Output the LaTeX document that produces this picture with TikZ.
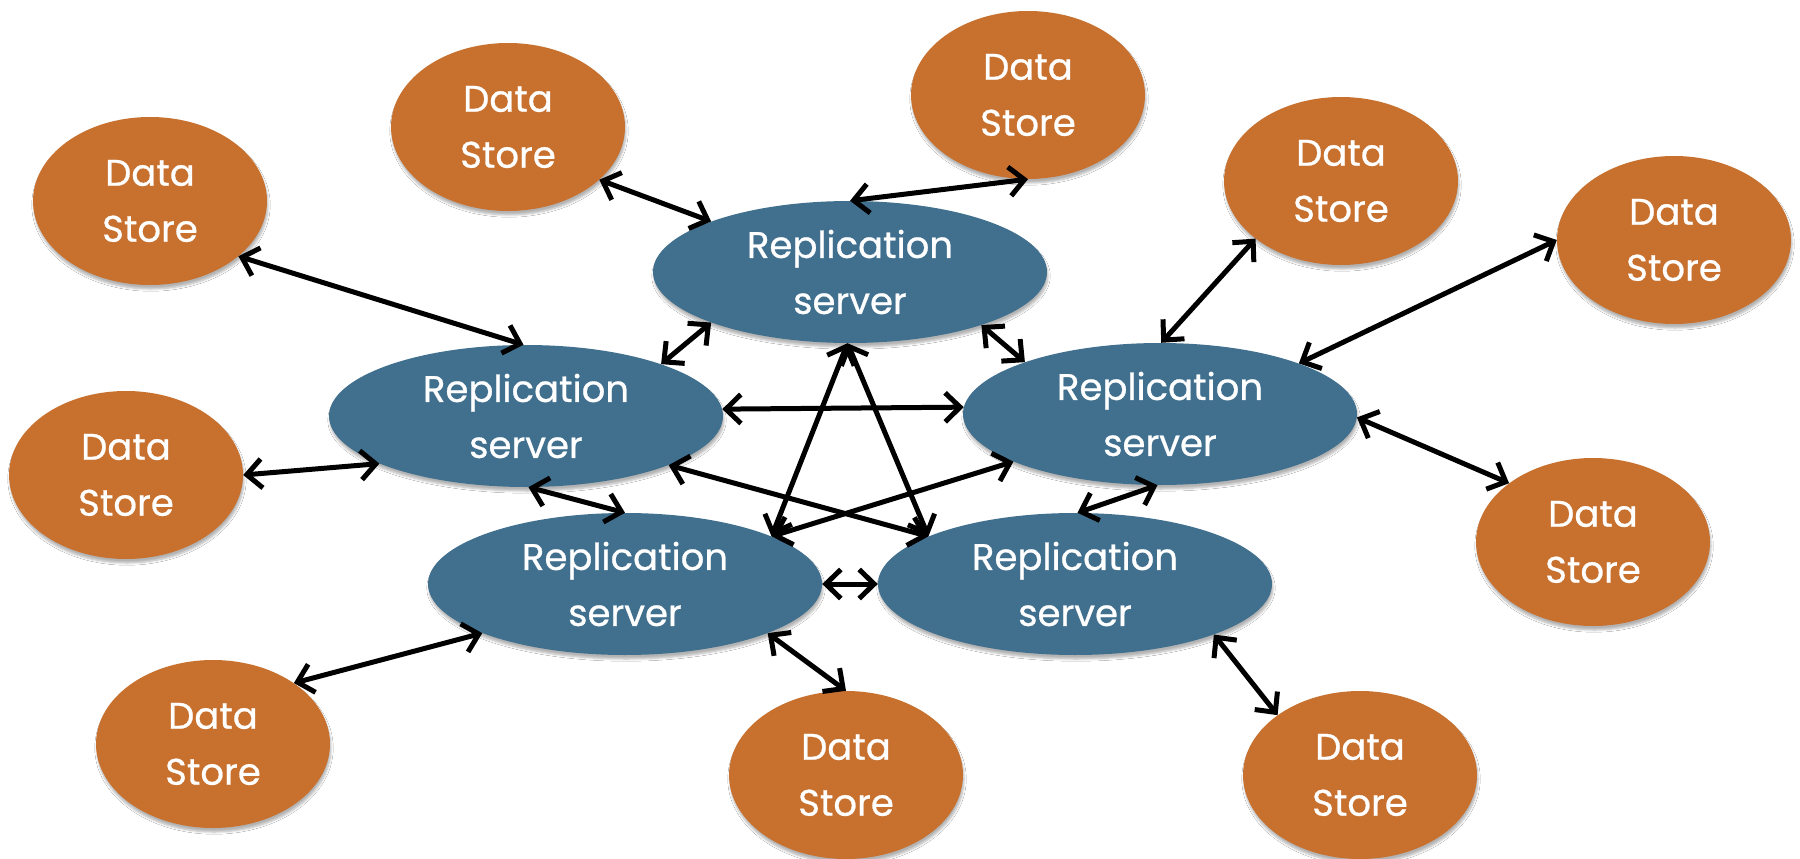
\documentclass[tikz,border=0pt]{standalone}
\usepackage{fontspec}
\setmainfont{Poppins}
\newfontfamily\lblfont{Poppins}[FakeBold=0.7]
\usetikzlibrary{arrows.meta,shapes.geometric,shadows.blur}
\definecolor{serverblue}{RGB}{65,112,143}
\definecolor{storeorange}{RGB}{200,112,46}
\begin{document}
\begin{tikzpicture}[x=1pt,y=-1pt,
  soft/.style={blur shadow={shadow blur steps=6, shadow xshift=1pt, shadow yshift=-4pt, shadow opacity=30}},
  label/.style={inner sep=0pt, text=white, align=center, font=\lblfont\fontsize{37}{56}\selectfont},
  server/.style={ellipse, fill=serverblue, minimum width=394pt, minimum height=142pt,
    label, soft},
  store/.style={ellipse, fill=storeorange, minimum width=234pt, minimum height=168pt,
    label, soft},
  link/.style={{Straight Barb[length=15pt,width=29pt]}-{Straight Barb[length=15pt,width=29pt]},
    line width=5pt, black},
]
\useasboundingbox (0,0) rectangle (1800,859);
\fill[white] (0,0) rectangle (1800,859);

% replication servers
\node[server] (T)  at (850,272)  {Replication\\server};
\node[server] (L)  at (526,416)  {Replication\\server};
\node[server] (R)  at (1160,414) {Replication\\server};
\node[server] (BL) at (625,584)  {Replication\\server};
\node[server] (BR) at (1075,584) {Replication\\server};

% data stores
\node[store] (D1)  at (508,127)  {Data\\Store};
\node[store] (D2)  at (1028,95)  {Data\\Store};
\node[store] (D3)  at (150,201)  {Data\\Store};
\node[store] (D4)  at (1341,181) {Data\\Store};
\node[store] (D5)  at (1674,240) {Data\\Store};
\node[store] (D6)  at (126,475)  {Data\\Store};
\node[store] (D7)  at (1593,542) {Data\\Store};
\node[store] (D8)  at (213,744)  {Data\\Store};
\node[store] (D9)  at (846,775)  {Data\\Store};
\node[store] (D10) at (1360,775) {Data\\Store};

% store-to-server links
\draw[link] (D1.330)  -- (T.160);
\draw[link] (D2.270)  -- (T.90);
\draw[link] (D3.328)  -- (L.92);
\draw[link] (D4.214)  -- (R.89);
\draw[link] (D5.180)  -- (R.20);
\draw[link] (D6.0)    -- (L.198);
\draw[link] (D7.145)  -- (R.-1);
\draw[link] (D8.37)   -- (BL.199);
\draw[link] (D9.90)   -- (BL.341);
\draw[link] (D10.144) -- (BR.340);

% server-to-server links
\draw[link] (T.200)  -- (L.21);
\draw[link] (T.338)  -- (R.159);
\draw[link] (L.2)    -- (R.178);
\draw[link] (T.268)  -- (BL.18);
\draw[link] (T.268)  -- (BR.162);
\draw[link] (L.341)  -- (BR.162);
\draw[link] (R.198)  -- (BL.18);
\draw[link] (L.272)  -- (BL.90);
\draw[link] (R.268)  -- (BR.88);
\draw[link] (BL.0)   -- (BR.180);
\end{tikzpicture}
\end{document}
